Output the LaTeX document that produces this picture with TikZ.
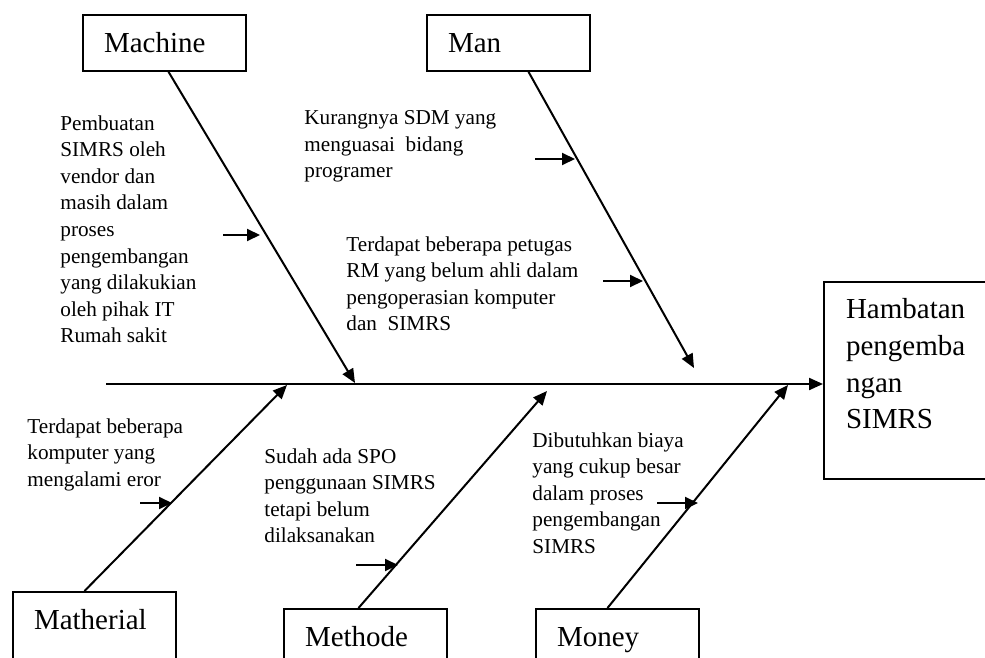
\documentclass[tikz,border=0pt]{standalone}
\usepackage{fontspec}
\setmainfont{Liberation Serif}
\usetikzlibrary{positioning,arrows.meta}

\begin{document}
\begin{tikzpicture}[x=0.5pt,y=-0.5pt]
\tikzstyle{catbox}=[draw,line width=1pt,font=\fontsize{14.5pt}{18.3pt}\selectfont,text width=60.5pt,align=left,inner xsep=10.5pt,inner ysep=9pt,text height=9.9pt,anchor=north west]
\tikzstyle{lowbox}=[catbox,text depth=40pt]
\tikzstyle{note}=[font=\fontsize{10.6pt}{13.3pt}\selectfont,align=left,inner sep=0pt,anchor=north west]
\tikzstyle{bone}=[line width=1pt,-{Triangle[length=7pt,width=6pt]}]
\tikzstyle{cause}=[line width=1pt,-{Triangle[length=6.5pt,width=6pt]}]
\useasboundingbox (0,0) rectangle (985,658);
\clip (0,0) rectangle (985,658);
% boxes
\node[catbox,text depth=0pt] (machine) at (82,14) {Machine};
\node[catbox,text depth=0pt] (man) at (426,14) {Man};
\node[lowbox] (mat) at (12,591) {Matherial};
\node[lowbox] (met) at (283,608) {Methode};
\node[lowbox] (mon) at (535,608) {Money};
\node[catbox,text width=70pt,inner xsep=11pt,inner ysep=8.5pt,text depth=71.6pt] (head) at (823,281) {Hambatan\\pengemba\\ngan\\SIMRS};
% spine
\coordinate (tail) at (106,384);
\draw[bone,line width=1.1pt] (tail) -- (tail -| head.west);
% bones
\coordinate (machTip) at (355,383); \coordinate (manTip) at (694,368);
\coordinate (matTip) at (287,385); \coordinate (metTip) at (547,391); \coordinate (monTip) at (788,385);
\draw[bone] ([xshift=2pt]machine.south) -- (machTip);
\draw[bone] ([xshift=10pt]man.south) -- (manTip);
\draw[bone] ([xshift=-5pt]mat.north) -- (matTip);
\draw[bone] ([xshift=-3.5pt]met.north) -- (metTip);
\draw[bone] ([xshift=-5pt]mon.north) -- (monTip);
% causes
\node[note] (machNote) at (60,115) {Pembuatan\\SIMRS oleh\\vendor dan\\masih dalam\\proses\\pengembangan\\yang dilakukian\\oleh pihak IT\\Rumah sakit};
\node[note] (manNoteA) at (304,110) {Kurangnya SDM yang\\menguasai\ \ bidang\\programer};
\node[note] (manNoteB) at (346,236) {Terdapat beberapa petugas\\RM yang belum ahli dalam\\pengoperasian komputer\\dan\ \ SIMRS};
\node[note] (matNote) at (27,418) {Terdapat beberapa\\komputer yang\\mengalami eror};
\node[note] (metNote) at (264,448) {Sudah ada SPO\\penggunaan SIMRS\\tetapi belum\\dilaksanakan};
\node[note] (monNote) at (532,432) {Dibutuhkan biaya\\yang cukup besar\\dalam proses\\pengembangan\\SIMRS};
% small arrows
\coordinate (c1) at (223,235); \coordinate (c1e) at (260,235);
\coordinate (c2) at (535,159); \coordinate (c2e) at (575,159);
\coordinate (c3) at (603,281); \coordinate (c3e) at (643,281);
\coordinate (c4) at (140,503); \coordinate (c4e) at (172,503);
\coordinate (c5) at (356,565); \coordinate (c5e) at (398,565);
\coordinate (c6) at (657,503); \coordinate (c6e) at (698,503);
\draw[cause] (c1) -- (c1e); \draw[cause] (c2) -- (c2e); \draw[cause] (c3) -- (c3e);
\draw[cause] (c4) -- (c4e); \draw[cause] (c5) -- (c5e); \draw[cause] (c6) -- (c6e);
\end{tikzpicture}
\end{document}
